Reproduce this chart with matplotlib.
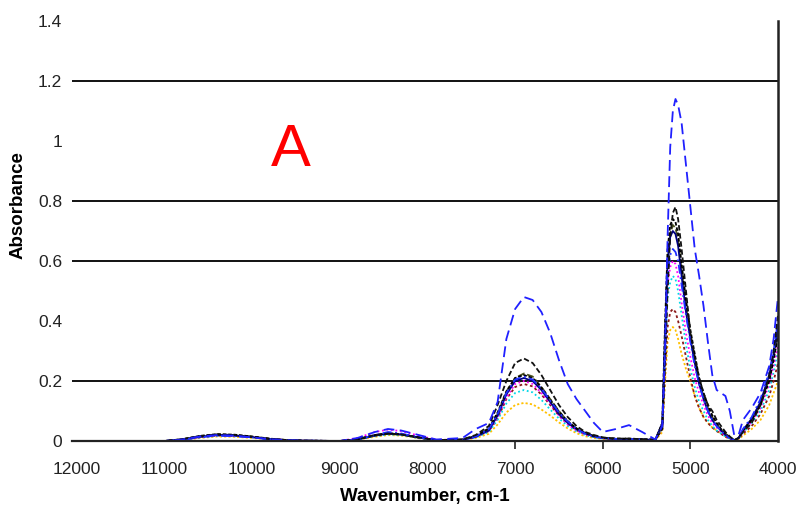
import matplotlib
matplotlib.use("Agg")
import matplotlib.pyplot as plt

plt.rcParams['font.family'] = ['Liberation Sans', 'DejaVu Sans']

# wavenumber grid (cm-1), shared by all spectra
wavenumber = [12000, 11000, 10800, 10600, 10400, 10200, 10000, 9800, 9600, 9400, 9000,
              8800, 8600, 8450, 8300, 8100, 7900,
              7600, 7450, 7300, 7200, 7100, 7000, 6900, 6800, 6700, 6600, 6500, 6400, 6300, 6200, 6100, 6000, 5850, 5700, 5550, 5400,
              5320, 5290, 5260, 5230, 5200, 5170, 5140, 5100, 5050, 5000, 4950, 4900, 4850, 4800, 4750, 4700, 4650, 4600, 4550, 4500,
              4450, 4400, 4300, 4200, 4100, 4050, 4000]

s_blue_dash = [0, 0, 0.005, 0.015, 0.02, 0.018, 0.012, 0.006, 0.003, 0.001, 0,
               0.01, 0.03, 0.04, 0.035, 0.02, 0.005,
               0.01, 0.04, 0.06, 0.13, 0.34, 0.44, 0.48, 0.47, 0.43, 0.36, 0.27, 0.19, 0.14, 0.10, 0.06, 0.03, 0.04, 0.053, 0.03, 0.005,
               0.05, 0.3, 0.68, 0.98, 1.10, 1.14, 1.12, 1.06, 0.92, 0.78, 0.64, 0.55, 0.45, 0.33, 0.22, 0.17, 0.16, 0.15, 0.10, 0.02,
               0.02, 0.07, 0.11, 0.16, 0.25, 0.34, 0.48]
s_black_dash = [0, 0, 0.006, 0.016, 0.022, 0.02, 0.014, 0.007, 0.003, 0.001, 0,
                0.006, 0.02, 0.025, 0.022, 0.012, 0.003,
                0.005, 0.02, 0.05, 0.12, 0.2, 0.26, 0.275, 0.26, 0.22, 0.17, 0.12, 0.08, 0.05, 0.03, 0.02, 0.012, 0.008, 0.008, 0.006, 0.004,
                0.04, 0.25, 0.5, 0.68, 0.76, 0.78, 0.74, 0.64, 0.5, 0.36, 0.28, 0.21, 0.16, 0.12, 0.1, 0.07, 0.05, 0.03, 0.015, 0.003,
                0.01, 0.03, 0.06, 0.12, 0.22, 0.3, 0.42]
s_blue_dashdot = [0, 0, 0.004, 0.012, 0.018, 0.016, 0.012, 0.006, 0.002, 0.001, 0,
                  0.005, 0.02, 0.03, 0.025, 0.012, 0.003,
                  0.004, 0.015, 0.04, 0.09, 0.16, 0.205, 0.215, 0.205, 0.175, 0.135, 0.095, 0.065, 0.04, 0.025, 0.015, 0.01, 0.007, 0.007, 0.005, 0.004,
                  0.05, 0.3, 0.55, 0.62, 0.64, 0.63, 0.6, 0.52, 0.42, 0.33, 0.25, 0.19, 0.14, 0.1, 0.07, 0.05, 0.035, 0.02, 0.01, 0.003,
                  0.01, 0.04, 0.08, 0.14, 0.23, 0.3, 0.40]
s_navy = [0, 0, 0.005, 0.014, 0.02, 0.018, 0.013, 0.006, 0.002, 0.001, 0,
          0.005, 0.018, 0.025, 0.022, 0.012, 0.003,
          0.004, 0.014, 0.035, 0.085, 0.155, 0.2, 0.21, 0.2, 0.17, 0.13, 0.09, 0.06, 0.04, 0.025, 0.015, 0.01, 0.006, 0.006, 0.005, 0.004,
          0.06, 0.35, 0.6, 0.68, 0.7, 0.69, 0.65, 0.55, 0.43, 0.34, 0.26, 0.19, 0.14, 0.1, 0.07, 0.05, 0.035, 0.02, 0.01, 0.002,
          0.01, 0.035, 0.075, 0.13, 0.22, 0.29, 0.38]
s_olive = [0, 0, 0.005, 0.015, 0.021, 0.019, 0.014, 0.007, 0.003, 0.001, 0,
           0.006, 0.018, 0.024, 0.021, 0.011, 0.003,
           0.005, 0.016, 0.04, 0.09, 0.165, 0.21, 0.225, 0.215, 0.18, 0.14, 0.1, 0.065, 0.042, 0.027, 0.016, 0.01, 0.007, 0.007, 0.005, 0.004,
           0.05, 0.32, 0.58, 0.69, 0.72, 0.71, 0.67, 0.57, 0.45, 0.35, 0.27, 0.2, 0.15, 0.11, 0.08, 0.055, 0.04, 0.025, 0.012, 0.003,
           0.01, 0.035, 0.07, 0.12, 0.21, 0.28, 0.36]
s_magenta = [0, 0, 0.004, 0.013, 0.019, 0.017, 0.013, 0.007, 0.003, 0.001, 0,
             0.01, 0.03, 0.038, 0.033, 0.018, 0.004,
             0.004, 0.014, 0.035, 0.08, 0.145, 0.19, 0.2, 0.19, 0.16, 0.125, 0.085, 0.055, 0.035, 0.022, 0.014, 0.009, 0.006, 0.006, 0.005, 0.004,
             0.05, 0.3, 0.52, 0.58, 0.6, 0.59, 0.55, 0.46, 0.36, 0.28, 0.21, 0.16, 0.12, 0.085, 0.06, 0.045, 0.03, 0.018, 0.009, 0.002,
             0.01, 0.03, 0.065, 0.11, 0.19, 0.25, 0.32]
s_cyan = [0, 0, 0.004, 0.012, 0.017, 0.016, 0.012, 0.006, 0.002, 0.001, 0,
          0.005, 0.016, 0.022, 0.02, 0.01, 0.003,
          0.004, 0.012, 0.03, 0.07, 0.125, 0.16, 0.17, 0.162, 0.137, 0.105, 0.075, 0.05, 0.032, 0.02, 0.012, 0.008, 0.006, 0.006, 0.005, 0.004,
          0.05, 0.28, 0.48, 0.53, 0.55, 0.54, 0.5, 0.42, 0.32, 0.24, 0.18, 0.13, 0.1, 0.07, 0.05, 0.035, 0.025, 0.015, 0.008, 0.002,
          0.008, 0.028, 0.06, 0.1, 0.17, 0.23, 0.30]
s_darkred = [0, 0, 0.004, 0.013, 0.018, 0.017, 0.013, 0.007, 0.003, 0.001, 0,
             0.006, 0.018, 0.024, 0.021, 0.011, 0.003,
             0.004, 0.013, 0.033, 0.075, 0.14, 0.18, 0.19, 0.182, 0.155, 0.12, 0.085, 0.056, 0.036, 0.022, 0.014, 0.009, 0.006, 0.006, 0.005, 0.004,
             0.04, 0.22, 0.38, 0.43, 0.44, 0.43, 0.4, 0.35, 0.28, 0.21, 0.15, 0.11, 0.08, 0.06, 0.045, 0.033, 0.024, 0.014, 0.007, 0.002,
             0.007, 0.024, 0.05, 0.09, 0.15, 0.2, 0.26]
s_gold = [0, 0, 0.003, 0.01, 0.015, 0.014, 0.01, 0.005, 0.002, 0.001, 0,
          0.004, 0.014, 0.02, 0.018, 0.009, 0.002,
          0.003, 0.01, 0.024, 0.055, 0.095, 0.12, 0.127, 0.122, 0.105, 0.085, 0.062, 0.042, 0.026, 0.016, 0.01, 0.007, 0.005, 0.005, 0.004, 0.003,
          0.03, 0.19, 0.33, 0.37, 0.38, 0.37, 0.34, 0.29, 0.24, 0.2, 0.15, 0.11, 0.08, 0.06, 0.045, 0.035, 0.025, 0.015, 0.008, 0.002,
          0.005, 0.018, 0.04, 0.07, 0.12, 0.16, 0.20]
s_black = [0, 0, 0.006, 0.017, 0.023, 0.021, 0.015, 0.008, 0.003, 0.001, 0,
           0.006, 0.02, 0.026, 0.023, 0.012, 0.003,
           0.005, 0.017, 0.042, 0.095, 0.165, 0.21, 0.22, 0.21, 0.178, 0.138, 0.098, 0.066, 0.042, 0.027, 0.017, 0.011, 0.008, 0.008, 0.006, 0.004,
           0.06, 0.38, 0.64, 0.72, 0.74, 0.73, 0.69, 0.59, 0.47, 0.37, 0.29, 0.21, 0.16, 0.12, 0.085, 0.06, 0.04, 0.025, 0.012, 0.003,
           0.01, 0.035, 0.07, 0.12, 0.2, 0.27, 0.35]

xticks = [12000, 11000, 10000, 9000, 8000, 7000, 6000, 5000, 4000]
xtick_labels = ['12000', '11000', '10000', '9000', '8000', '7000', '6000', '5000', '4000']
tick_marks = [7000, 6000, 5000]   # only these tick marks show in the original
yticks = [0, 0.2, 0.4, 0.6, 0.8, 1.0, 1.2, 1.4]
ytick_labels = ['0', '0.2', '0.4', '0.6', '0.8', '1', '1.2', '1.4']
grid_levels = [0.2, 0.6, 0.8, 1.2]

series = [s_gold, s_darkred, s_cyan, s_magenta, s_olive, s_navy, s_black, s_blue_dashdot, s_black_dash, s_blue_dash]
colors = ['#FFC000', '#8B1A1A', '#00D8E8', '#FF00FF', '#4B5320', '#000080', '#000000', '#1F2FFF', '#111111', '#2020FF']
styles = [(0, (1.2, 1.2)), (0, (1.5, 1.5)), (0, (1, 1.5)), (0, (1, 1.5)), (0, (4, 1.5)),
          '-', (0, (2, 1)), (0, (5, 2, 1, 2)), (0, (3, 1.5)), (0, (6, 3))]

fig = plt.figure(figsize=(8.01, 5.05), dpi=100)
ax = fig.add_axes([72 / 801, (505 - 441) / 505, (778 - 72) / 801, 420 / 505])

for ys, c, ls in zip(series, colors, styles):
    ax.plot(wavenumber, ys, color=c, linestyle=ls, linewidth=1.3)

for g in grid_levels:
    ax.axhline(g, color='#111111', linewidth=1.4, zorder=0)

ax.set_xlim(12057, 4000)
ax.set_ylim(0, 1.4)
ax.xaxis.remove_overlapping_locs = False
ax.set_xticks(xticks)
ax.set_xticklabels(xtick_labels)
ax.set_xticks(tick_marks, minor=True)
ax.set_yticks(yticks)
ax.set_yticklabels(ytick_labels)
ax.tick_params(axis='x', which='major', length=0, pad=15, labelsize=12.5, labelcolor='#222222')
ax.tick_params(axis='x', which='minor', direction='out', length=6, width=1.2, color='#222222')
ax.tick_params(axis='y', length=0, pad=7, labelsize=12.5, labelcolor='#222222')

ax.spines['top'].set_visible(False)
ax.spines['left'].set_visible(False)
ax.spines['right'].set_linewidth(1.8)
ax.spines['right'].set_color('#222222')
ax.spines['bottom'].set_linewidth(1.6)
ax.spines['bottom'].set_color('#222222')

ax.set_xlabel('Wavenumber, cm-1', fontsize=13.5, fontweight='bold', labelpad=8)
ax.set_ylabel('Absorbance', fontsize=13.5, fontweight='bold')
ax.yaxis.set_label_coords(-0.065, 0.562)

ax.text(9560, 0.97, 'A', color='#FF0000', fontsize=43, ha='center', va='center')

plt.savefig('out.png', dpi=100)
